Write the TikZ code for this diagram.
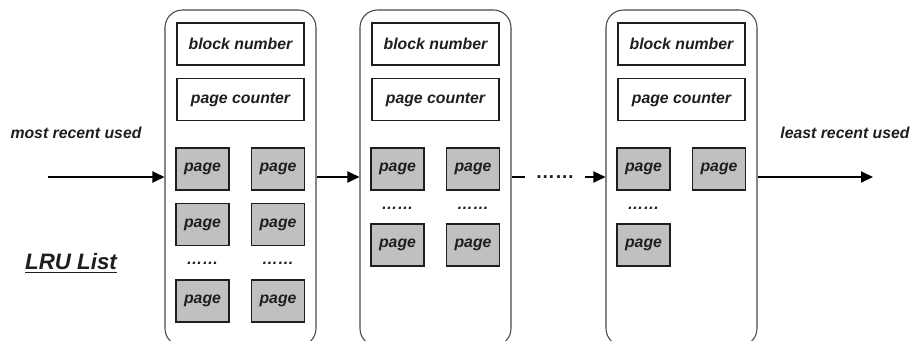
\documentclass[tikz,border=0pt]{standalone}
\usepackage{fontspec}
\setmainfont{Liberation Sans}
\usetikzlibrary{arrows.meta}
\definecolor{pagegray}{RGB}{192, 192, 192}
\definecolor{blockgray}{RGB}{70, 70, 70}
\definecolor{textblack}{RGB}{30, 30, 30}

\begin{document}
\begin{tikzpicture}[
        font=\fontsize{9}{11}\selectfont\bfseries\itshape,
        block/.style={rectangle, rounded corners=0.35cm, draw=blockgray, line width=0.6pt, minimum width=3.02cm, minimum height=6.72cm},
        field/.style={rectangle, draw=textblack, line width=0.6pt, minimum width=2.54cm, minimum height=0.84cm, text=textblack},
        pagebox/.style={rectangle, draw=textblack, line width=0.6pt, fill=pagegray, minimum width=1.06cm, minimum height=0.84cm, text=textblack},
        dotsrow/.style={inner sep=0pt, text=textblack},
        flow/.style={-{Triangle[length=2.4mm, width=2.2mm]}, line width=1.1pt, color=black}
    ]
    \useasboundingbox (0,0) rectangle (18.26,6.8);

    % Blocks of the list (cut off at the bottom edge)
    \node[block] (blk1) at (4.81, 3.24) {};
    \node[block] (blk2) at (8.71, 3.24) {};
    \node[block] (blk3) at (13.63, 3.24) {};

    % Block headers
    \node[field] (num1) at (4.81, 5.92) {block number};
    \node[field] (cnt1) at (4.81, 4.81) {page counter};
    \node[field] (num2) at (8.71, 5.92) {block number};
    \node[field] (cnt2) at (8.71, 4.81) {page counter};
    \node[field] (num3) at (13.63, 5.92) {block number};
    \node[field] (cnt3) at (13.63, 4.81) {page counter};

    % Pages of block 1
    \node[pagebox] (p1a) at (4.05, 3.42) {page};
    \node[pagebox] (p1b) at (5.56, 3.42) {page};
    \node[pagebox] (p1c) at (4.05, 2.31) {page};
    \node[pagebox] (p1d) at (5.56, 2.31) {page};
    \node[dotsrow] (d1a) at (4.05, 1.54) {……};
    \node[dotsrow] (d1b) at (5.56, 1.54) {……};
    \node[pagebox] (p1e) at (4.05, 0.78) {page};
    \node[pagebox] (p1f) at (5.56, 0.78) {page};

    % Pages of block 2
    \node[pagebox] (p2a) at (7.95, 3.42) {page};
    \node[pagebox] (p2b) at (9.46, 3.42) {page};
    \node[dotsrow] (d2a) at (7.95, 2.64) {……};
    \node[dotsrow] (d2b) at (9.46, 2.64) {……};
    \node[pagebox] (p2c) at (7.95, 1.90) {page};
    \node[pagebox] (p2d) at (9.46, 1.90) {page};

    % Pages of block 3
    \node[pagebox] (p3a) at (12.87, 3.42) {page};
    \node[pagebox] (p3b) at (14.38, 3.42) {page};
    \node[dotsrow] (d3a) at (12.87, 2.64) {……};
    \node[pagebox] (p3c) at (12.87, 1.90) {page};

    % Labels
    \node[text=textblack] (mru) at (1.52, 4.14) {most recent used};
    \node[text=textblack] (lru) at (16.9, 4.14) {least recent used};
    \node[text=textblack, font=\fontsize{12.7}{15}\selectfont\bfseries\itshape] (title) at (1.42, 1.54) {\underline{LRU List}};

    % Links between blocks
    \coordinate (head) at (0.96, 3.26);
    \coordinate (tail) at (17.46, 3.26);
    \node[dotsrow, inner sep=0.2cm, font=\fontsize{11}{13}\selectfont\bfseries] (skip) at (11.1, 3.26) {……};
    \draw[flow] (head) -- (blk1.west |- head);
    \draw[flow] (blk1.east |- head) -- (blk2.west |- head);
    \draw[line width=1.1pt] (blk2.east |- head) -- (skip);
    \draw[flow] (skip) -- (blk3.west |- head);
    \draw[flow] (blk3.east |- head) -- (tail);

\end{tikzpicture}
\end{document}
